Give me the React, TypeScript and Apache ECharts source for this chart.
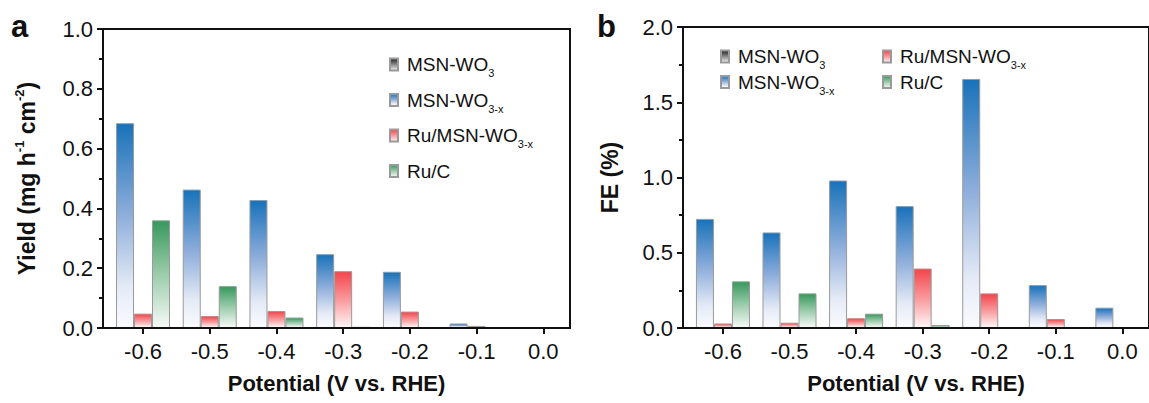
import React, { useEffect, useRef } from "react";
import * as echarts from "echarts";

const potentials = [-0.6, -0.5, -0.4, -0.3, -0.2, -0.1, 0.0];
const xTickValues = [-0.6, -0.5, -0.4, -0.3, -0.2, -0.1, 0.0];

const seriesNames = ["MSN-WO3", "MSN-WO3-x", "Ru/MSN-WO3-x", "Ru/C"];

// Panel a: Yield (mg h-1 cm-2)
const yieldMSNWO3 = [0, 0, 0, 0, 0, 0, 0];
const yieldMSNWO3x = [0.685, 0.463, 0.428, 0.247, 0.188, 0.015, 0.002];
const yieldRuMSNWO3x = [0.048, 0.04, 0.057, 0.19, 0.055, 0.007, 0];
const yieldRuC = [0.36, 0.14, 0.035, 0.004, 0, 0, 0];

// Panel b: FE (%)
const feMSNWO3 = [0, 0, 0, 0, 0, 0, 0];
const feMSNWO3x = [0.725, 0.635, 0.98, 0.81, 1.655, 0.285, 0.135];
const feRuMSNWO3x = [0.03, 0.035, 0.065, 0.395, 0.23, 0.06, 0];
const feRuC = [0.31, 0.23, 0.095, 0.02, 0, 0, 0];

const FONT = "'Liberation Sans', Arial, Helvetica, sans-serif";

const grad = (stops: [number, string][]) =>
  new echarts.graphic.LinearGradient(
    0,
    0,
    0,
    1,
    stops.map(([offset, color]) => ({ offset, color }))
  );

const styles: Record<string, any> = {
  "MSN-WO3": grad([
    [0, "#1e1e1e"],
    [0.5, "#8a8a8a"],
    [1, "#f2f2f2"],
  ]),
  "MSN-WO3-x": grad([
    [0, "#1872ba"],
    [0.45, "#8eaedb"],
    [0.8, "#e4eaf6"],
    [1, "#fafbfe"],
  ]),
  "Ru/MSN-WO3-x": grad([
    [0, "#f4454b"],
    [0.5, "#f9999c"],
    [1, "#fff6f6"],
  ]),
  "Ru/C": grad([
    [0, "#36985c"],
    [0.5, "#9bccab"],
    [1, "#f6faf7"],
  ]),
};

const stackOf: Record<string, string> = {
  "MSN-WO3": "blue",
  "MSN-WO3-x": "blue",
  "Ru/MSN-WO3-x": "red",
  "Ru/C": "green",
};

const legendLabel: Record<string, string> = {
  "MSN-WO3": "{n|MSN-WO}{s|3}",
  "MSN-WO3-x": "{n|MSN-WO}{s|3-x}",
  "Ru/MSN-WO3-x": "{n|Ru/MSN-WO}{s|3-x}",
  "Ru/C": "{n|Ru/C}",
};

const legendRich = {
  n: {
    fontSize: 19,
    lineHeight: 28,
    fontFamily: FONT,
    color: "#111",
    padding: [0, 0, 0, 4],
  },
  s: {
    fontSize: 11,
    lineHeight: 10,
    verticalAlign: "bottom",
    fontFamily: FONT,
    color: "#111",
  },
};

const makeLegend = (data: string[], left: number, top: number, itemGap: number) => ({
  data,
  left,
  top,
  orient: "vertical",
  itemGap,
  itemWidth: 8,
  itemHeight: 12,
  icon: "rect",
  formatter: (name: string) => legendLabel[name],
  textStyle: { fontFamily: FONT, fontSize: 19, color: "#111", rich: legendRich },
});

const xAxisFor = (gridIndex: number) => ({
  gridIndex,
  type: "value",
  min: -0.66,
  max: 0.04,
  z: 5,
  name: "Potential (V vs. RHE)",
  nameLocation: "middle",
  nameGap: 44,
  nameTextStyle: { fontFamily: FONT, fontSize: 22, fontWeight: "bold", color: "#111" },
  axisLine: { show: true, onZero: false, lineStyle: { color: "#111", width: 2 } },
  axisTick: {
    show: true,
    inside: false,
    length: 6,
    customValues: xTickValues,
    lineStyle: { color: "#111", width: 2 },
  },
  axisLabel: {
    customValues: xTickValues,
    margin: 12,
    fontFamily: FONT,
    fontSize: 22,
    color: "#111",
    formatter: (v: number) => v.toFixed(1),
  },
  splitLine: { show: false },
});

const yAxisFor = (gridIndex: number, max: number, interval: number, name: string, rich?: any) => ({
  gridIndex,
  type: "value",
  min: 0,
  max,
  interval,
  z: 5,
  name,
  nameLocation: "middle",
  nameGap: 62,
  nameRotate: 90,
  nameTextStyle: { fontFamily: FONT, fontSize: 23, fontWeight: "bold", color: "#111", rich },
  axisLine: { show: true, onZero: false, lineStyle: { color: "#111", width: 2 } },
  axisTick: { show: true, inside: false, length: 6, lineStyle: { color: "#111", width: 2 } },
  minorTick: { show: true, splitNumber: 2, length: 4, lineStyle: { color: "#111", width: 2 } },
  axisLabel: {
    margin: 10,
    fontFamily: FONT,
    fontSize: 22,
    color: "#111",
    formatter: (v: number) => v.toFixed(1),
  },
  splitLine: { show: false },
});

const makeSeries = (name: string, values: number[], idx: number) => ({
  type: "bar",
  name,
  xAxisIndex: idx,
  yAxisIndex: idx,
  stack: stackOf[name] + idx,
  barWidth: 18,
  barGap: "0%",
  data: potentials.map((p, i) => [p, values[i]]),
  itemStyle: { color: styles[name], borderColor: "#9a9a9a", borderWidth: 1 },
  emphasis: { disabled: true },
});

export default function App() {
  const ref = useRef<HTMLDivElement>(null);
  useEffect(() => {
    if (!ref.current) return;
    const chart = echarts.init(ref.current, undefined, { renderer: "svg" });
    const yieldRich = {
      b: { fontFamily: FONT, fontSize: 23, fontWeight: "bold", color: "#111", lineHeight: 28 },
      sup: { fontFamily: FONT, fontSize: 13, fontWeight: "bold", color: "#111", lineHeight: 13, verticalAlign: "top" },
    };
    chart.setOption({
      animation: false,
      backgroundColor: "#ffffff",
      grid: [
        { left: 103, top: 29, width: 467, height: 299, show: true, borderColor: "#111", borderWidth: 2, backgroundColor: "transparent", z: 4 },
        { left: 683, top: 27, width: 466, height: 301, show: true, borderColor: "#111", borderWidth: 2, backgroundColor: "transparent", z: 4 },
      ],
      legend: [
        makeLegend(seriesNames, 384, 50, 12),
        makeLegend(["MSN-WO3", "MSN-WO3-x"], 715, 42, 2),
        makeLegend(["Ru/MSN-WO3-x", "Ru/C"], 877, 42, 2),
      ],
      xAxis: [xAxisFor(0), xAxisFor(1)],
      yAxis: [
        yAxisFor(0, 1.0, 0.2, "{b|Yield (mg h}{sup|-1}{b| cm}{sup|-2}{b|)}", yieldRich),
        yAxisFor(1, 2.0, 0.5, "FE (%)"),
      ],
      series: [
        makeSeries("MSN-WO3", yieldMSNWO3, 0),
        makeSeries("MSN-WO3-x", yieldMSNWO3x, 0),
        makeSeries("Ru/MSN-WO3-x", yieldRuMSNWO3x, 0),
        makeSeries("Ru/C", yieldRuC, 0),
        makeSeries("MSN-WO3", feMSNWO3, 1),
        makeSeries("MSN-WO3-x", feMSNWO3x, 1),
        makeSeries("Ru/MSN-WO3-x", feRuMSNWO3x, 1),
        makeSeries("Ru/C", feRuC, 1),
      ],
      graphic: [
        { type: "text", left: 11, top: 11, style: { text: "a", fontFamily: FONT, fontSize: 31, fontWeight: "bold", fill: "#111" } },
        { type: "text", left: 597, top: 11, style: { text: "b", fontFamily: FONT, fontSize: 31, fontWeight: "bold", fill: "#111" } },
      ],
    });
    return () => chart.dispose();
  }, []);
  return (
    <div
      ref={ref}
      style={{ position: "fixed", left: 0, top: 0, width: 1149, height: 403, background: "#fff" }}
    />
  );
}
